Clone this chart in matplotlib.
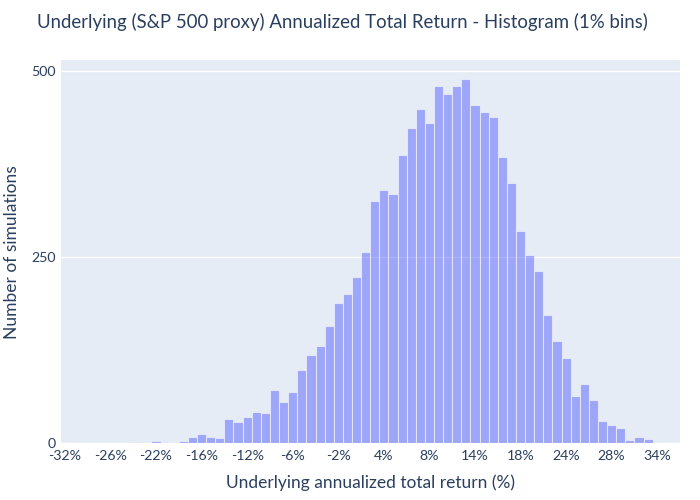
import matplotlib
matplotlib.use("Agg")
import matplotlib.pyplot as plt
import numpy as np

# Histogram data (1% bins): left edges in % and counts
bin_left = list(range(-32, 36))
counts = [1, 0, 0, 0, 0, 1, 0, 1, 2, 0,
          3, 2, 1, 3, 9, 12, 8, 7, 32, 29,
          35, 42, 40, 72, 55, 69, 98, 119, 130, 158,
          188, 200, 223, 257, 325, 340, 335, 387, 423, 448,
          430, 479, 469, 480, 489, 454, 444, 438, 384, 350,
          285, 253, 231, 172, 137, 114, 64, 79, 58, 30,
          24, 21, 5, 9, 6, 0, 0, 1]

x_tick_labels = ["-32%", "-26%", "-22%", "-16%", "-12%", "-6%", "-2%",
                 "4%", "8%", "14%", "18%", "24%", "28%", "34%"]
y_ticks = [0, 250, 500]

title = "Underlying (S&P 500 proxy) Annualized Total Return - Histogram (1% bins)"
xlabel = "Underlying annualized total return (%)"
ylabel = "Number of simulations"

TEXT = "#2a3f5f"
BG = "#E5ECF6"
plt.rcParams['font.family'] = ['Lato', 'DejaVu Sans']

fig = plt.figure(figsize=(7, 5), dpi=100)
ax = fig.add_axes([61/700, 1-443.3/500, (680-61)/700, (443.3-60)/500])
ax.set_facecolor(BG)

ax.bar(bin_left, counts, width=1, align='edge', color="#636EFA", alpha=0.55,
       edgecolor=(1, 1, 1, 0.6), linewidth=0.8, zorder=3)

ax.set_xlim(-31.93, 36)
ax.set_ylim(0, 514.4)

x_tick_pos = np.arange(len(x_tick_labels)) * 5 - 31.5
ax.set_xticks(x_tick_pos)
ax.set_xticklabels(x_tick_labels)
ax.set_yticks(y_ticks)
ax.tick_params(axis='both', length=0, colors=TEXT, labelsize=10.2)
ax.tick_params(axis='x', pad=5)
ax.tick_params(axis='y', pad=4)
ax.grid(axis='y', color='white', linewidth=1.0, zorder=0)
ax.set_axisbelow(True)
for s in ax.spines.values():
    s.set_visible(False)

ax.set_xlabel(xlabel, color=TEXT, fontsize=12.5, labelpad=9)
ax.set_ylabel(ylabel, color=TEXT, fontsize=12.5, labelpad=8)
fig.text(342/700, 1-22/500, title, color=TEXT, fontsize=13.4, ha='center', va='center')

fig.savefig("out.png", dpi=100, facecolor='white')
